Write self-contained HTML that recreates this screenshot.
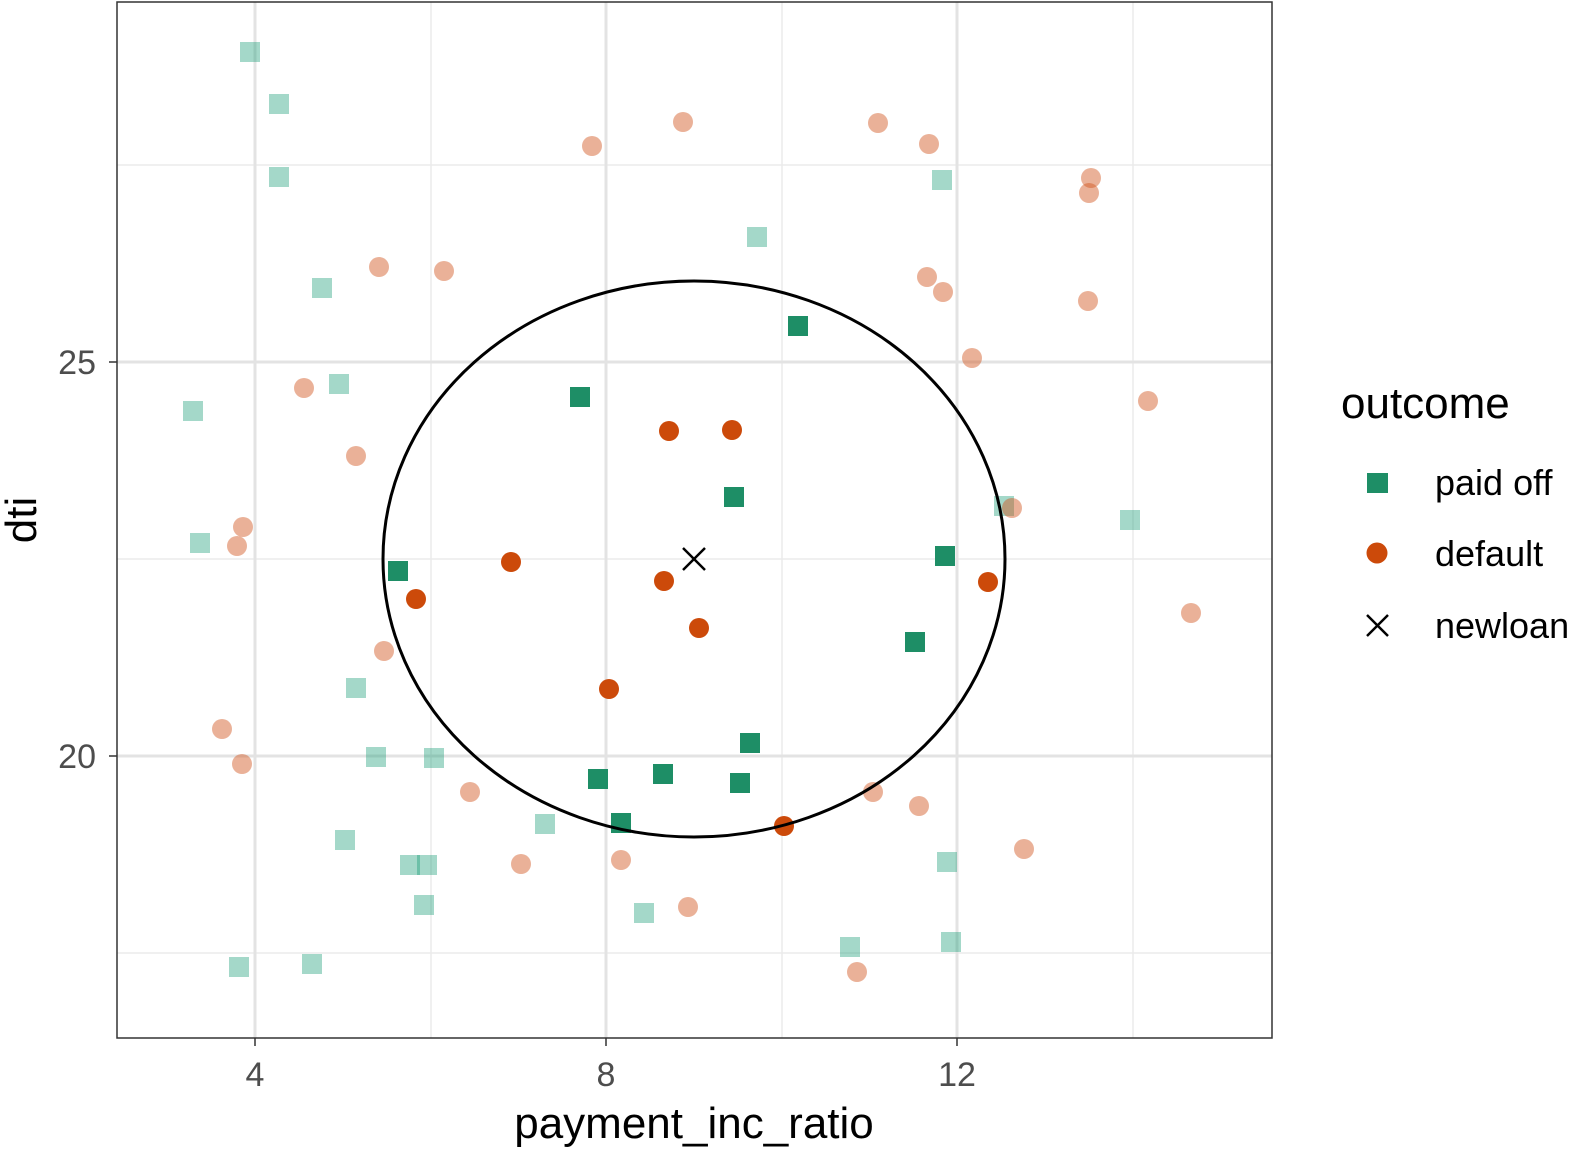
<!DOCTYPE html>
<html><head><meta charset="utf-8"><style>body{margin:0;background:#fff}svg{display:block}text{font-family:"Liberation Sans",sans-serif}</style></head>
<body>
<svg id="s" width="1579" height="1156" xmlns="http://www.w3.org/2000/svg">
<rect x="117" y="2" width="1155" height="1036" fill="#fff"/>
<g stroke="#ebebeb" stroke-width="1.5">
<line x1="431" y1="2" x2="431" y2="1038"/><line x1="782" y1="2" x2="782" y2="1038"/><line x1="1133" y1="2" x2="1133" y2="1038"/>
<line x1="117" y1="165" x2="1272" y2="165"/><line x1="117" y1="559" x2="1272" y2="559"/><line x1="117" y1="953" x2="1272" y2="953"/>
</g>
<g stroke="#e3e3e3" stroke-width="3">
<line x1="255" y1="2" x2="255" y2="1038"/><line x1="606" y1="2" x2="606" y2="1038"/><line x1="957" y1="2" x2="957" y2="1038"/>
<line x1="117" y1="362" x2="1272" y2="362"/><line x1="117" y1="756" x2="1272" y2="756"/>
</g>
<g id="pts"></g>
<ellipse cx="694" cy="559" rx="311" ry="278" fill="none" stroke="#000" stroke-width="3"/>
<g stroke="#000" stroke-width="2.5"><line x1="683" y1="548" x2="705" y2="570"/><line x1="705" y1="548" x2="683" y2="570"/></g>
<rect x="117" y="2" width="1155" height="1036" fill="none" stroke="#333" stroke-width="1.5"/>
<g stroke="#333" stroke-width="1.5"><line x1="255" y1="1038" x2="255" y2="1046"/><line x1="606" y1="1038" x2="606" y2="1046"/><line x1="957" y1="1038" x2="957" y2="1046"/><line x1="109" y1="362" x2="117" y2="362"/><line x1="109" y1="756" x2="117" y2="756"/></g>
<g font-size="34" fill="#4d4d4d"><text x="255" y="1086" text-anchor="middle">4</text><text x="606" y="1086" text-anchor="middle">8</text><text x="957" y="1086" text-anchor="middle">12</text>
<text x="96" y="374" text-anchor="end">25</text><text x="96" y="768" text-anchor="end">20</text></g>
<text x="694" y="1138" font-size="44" text-anchor="middle">payment_inc_ratio</text>
<text transform="translate(36,520) rotate(-90)" font-size="44" text-anchor="middle">dti</text>
<text x="1341" y="418" font-size="44">outcome</text>
<rect x="1367" y="473" width="21" height="20" fill="#1E8E66"/>
<circle cx="1377" cy="553" r="10.5" fill="#CC4A0A"/>
<g stroke="#000" stroke-width="2.5"><line x1="1367" y1="615" x2="1388" y2="636"/><line x1="1388" y1="615" x2="1367" y2="636"/></g>
<g font-size="36"><text x="1435" y="495">paid off</text><text x="1435" y="566">default</text><text x="1435" y="638">newloan</text></g>
</svg>
<script>
var g=document.getElementById('pts'),ns='http://www.w3.org/2000/svg';
function sq(a,c,o){a.forEach(function(p){var r=document.createElementNS(ns,'rect');r.setAttribute('x',p[0]-10);r.setAttribute('y',p[1]-10);r.setAttribute('width',20);r.setAttribute('height',20);r.setAttribute('fill',c);r.setAttribute('fill-opacity',o);g.appendChild(r);});}
function ci(a,c,o){a.forEach(function(p){var r=document.createElementNS(ns,'circle');r.setAttribute('cx',p[0]);r.setAttribute('cy',p[1]);r.setAttribute('r',10);r.setAttribute('fill',c);r.setAttribute('fill-opacity',o);g.appendChild(r);});}
sq([[250,52],[279,104],[279,177],[322,288],[339,384],[193,411],[200,543],[356,688],[376,757],[434,758],[345,840],[410,865],[427,865],[424,905],[545,824],[644,913],[757,237],[942,180],[1004,506],[1130,520],[947,862],[850,947],[951,942],[239,967],[312,964]],'#1B9E77',0.4);
ci([[592,146],[683,122],[878,123],[929,144],[1091,178],[1089,193],[379,267],[444,271],[927,277],[943,292],[1088,301],[972,358],[1148,401],[304,388],[356,456],[243,527],[237,546],[1012,508],[1191,613],[384,651],[222,729],[242,764],[470,792],[873,792],[919,806],[1024,849],[521,864],[621,860],[688,907],[857,972]],'#D0531A',0.45);
sq([[580,397],[798,326],[734,497],[398,571],[945,556],[915,642],[750,743],[598,779],[663,774],[740,783],[621,823]],'#1E8E66',1);
ci([[669,431],[732,430],[511,562],[664,581],[416,599],[699,628],[988,582],[609,689],[784,826]],'#CC4A0A',1);
</script>
</body></html>
